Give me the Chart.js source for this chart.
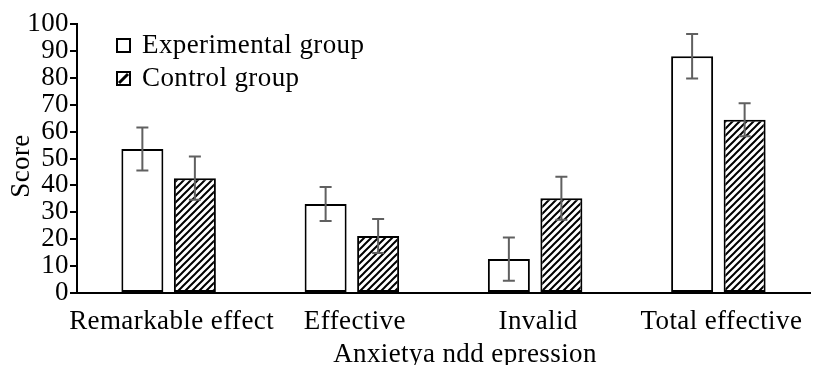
<!DOCTYPE html>
<html>
<head>
<meta charset="utf-8">
<script src="https://cdn.jsdelivr.net/npm/chart.js@4"></script>
<style>
  html, body { margin: 0; padding: 0; background: #fff; }
  #wrap { width: 819px; height: 365px; position: relative; }
</style>
</head>
<body>
<div id="wrap"><canvas id="chart" width="819" height="365"></canvas></div>
<script>
// Categories and group scores (mean with error)
const categories = ['Remarkable effect', 'Effective', 'Invalid', 'Total effective'];
const experimental = [53.5, 33.1, 12.6, 88.0];
const experimentalErr = [8.0, 6.3, 8.0, 8.3];
const control = [42.7, 21.2, 35.2, 64.4];
const controlErr = [8.0, 6.3, 8.0, 6.1];
const yTicks = [0, 10, 20, 30, 40, 50, 60, 70, 80, 90, 100];

const FONT = '"Liberation Serif", "Times New Roman", serif';
const SIZE = 27;
const SPACING = '0.4px';

// Diagonal hatch fill for the control group
function makeHatch() {
  const s = 7;
  const c = document.createElement('canvas');
  c.width = s; c.height = s;
  const g = c.getContext('2d');
  g.fillStyle = '#fff';
  g.fillRect(0, 0, s, s);
  g.strokeStyle = '#000';
  g.lineWidth = 2;
  g.beginPath();
  g.moveTo(-1, s + 1); g.lineTo(s + 1, -1);
  g.moveTo(-1, 1); g.lineTo(1, -1);
  g.moveTo(s - 1, s + 1); g.lineTo(s + 1, s - 1);
  g.stroke();
  return g.createPattern(c, 'repeat');
}

const ctx = document.getElementById('chart').getContext('2d');
const hatch = makeHatch();
const errors = [experimentalErr, controlErr];

// Keep text spacing consistent for measuring and drawing
const spacingPlugin = {
  id: 'spacing',
  beforeLayout(chart) { chart.ctx.letterSpacing = SPACING; },
  beforeDraw(chart) { chart.ctx.letterSpacing = SPACING; }
};

// Error bars with caps, drawn from the error arrays through the y scale
const errorBarPlugin = {
  id: 'errorBars',
  afterDatasetsDraw(chart) {
    const c = chart.ctx;
    const y = chart.scales.y;
    c.save();
    c.strokeStyle = '#606060';
    c.lineWidth = 2;
    chart.data.datasets.forEach((ds, di) => {
      const meta = chart.getDatasetMeta(di);
      meta.data.forEach((bar, i) => {
        const v = ds.data[i], e = errors[di][i];
        const top = y.getPixelForValue(v + e);
        const bot = y.getPixelForValue(v - e);
        const x = bar.x, cap = 6;
        c.beginPath();
        c.moveTo(x, top); c.lineTo(x, bot);
        c.moveTo(x - cap, top); c.lineTo(x + cap, top);
        c.moveTo(x - cap, bot); c.lineTo(x + cap, bot);
        c.stroke();
      });
    });
    c.restore();
  }
};

// Axis titles and the inset legend
const annotatePlugin = {
  id: 'annotate',
  afterDraw(chart) {
    const c = chart.ctx;
    c.save();
    c.letterSpacing = SPACING;
    c.fillStyle = '#000';
    c.font = SIZE + 'px ' + FONT;
    c.textAlign = 'center';
    c.textBaseline = 'alphabetic';
    c.fillText('Anxietya ndd epression', 465, 362);

    c.save();
    c.translate(29, 166);
    c.rotate(-Math.PI / 2);
    c.fillText('Score', 0, 0);
    c.restore();

    // legend
    c.textAlign = 'left';
    c.textBaseline = 'middle';
    const items = [
      { label: chart.data.datasets[0].label, y: 45, hatched: false },
      { label: chart.data.datasets[1].label, y: 78, hatched: true }
    ];
    items.forEach(it => {
      const bs = 13, bx = 117, by = it.y - 6;
      c.fillStyle = '#fff';
      c.fillRect(bx, by, bs, bs);
      c.strokeStyle = '#000';
      c.lineWidth = 2;
      c.strokeRect(bx, by, bs, bs);
      if (it.hatched) {
        c.beginPath();
        c.moveTo(bx + 2, by + bs - 2);
        c.lineTo(bx + bs - 2, by + 2);
        c.lineWidth = 3;
        c.stroke();
      }
      c.fillStyle = '#000';
      c.fillText(it.label, 142, it.y + 1);
    });
    c.restore();
  }
};

new Chart(ctx, {
  type: 'bar',
  data: {
    labels: categories,
    datasets: [
      {
        label: 'Experimental group',
        data: experimental,
        backgroundColor: '#fff',
        borderColor: '#000',
        borderWidth: 2,
        borderSkipped: false
      },
      {
        label: 'Control group',
        data: control,
        backgroundColor: hatch,
        borderColor: '#000',
        borderWidth: 2,
        borderSkipped: false
      }
    ]
  },
  options: {
    responsive: false,
    animation: false,
    devicePixelRatio: 1,
    layout: { padding: { left: 0, top: 24, right: 9, bottom: 0 } },
    datasets: { bar: { categoryPercentage: 0.573, barPercentage: 0.8 } },
    plugins: {
      legend: { display: false },
      tooltip: { enabled: false }
    },
    scales: {
      x: {
        grid: { display: true, drawOnChartArea: false, drawTicks: false },
        border: { display: true, color: '#000', width: 2 },
        ticks: { color: '#000', font: { family: FONT, size: SIZE }, padding: 13, labelOffset: 3, maxRotation: 0, autoSkip: false },
        afterFit(scale) { scale.height = 72; }
      },
      y: {
        min: 0,
        max: 100,
        afterBuildTicks(scale) { scale.ticks = yTicks.map(v => ({ value: v })); },
        grid: { display: true, drawOnChartArea: false, drawTicks: true, tickLength: 7, color: '#000', lineWidth: 2 },
        border: { display: true, color: '#000', width: 2 },
        ticks: { color: '#000', font: { family: FONT, size: SIZE }, padding: 1, autoSkip: false },
        afterFit(scale) { scale.width = 77; }
      }
    }
  },
  plugins: [spacingPlugin, errorBarPlugin, annotatePlugin]
});
</script>
</body>
</html>
